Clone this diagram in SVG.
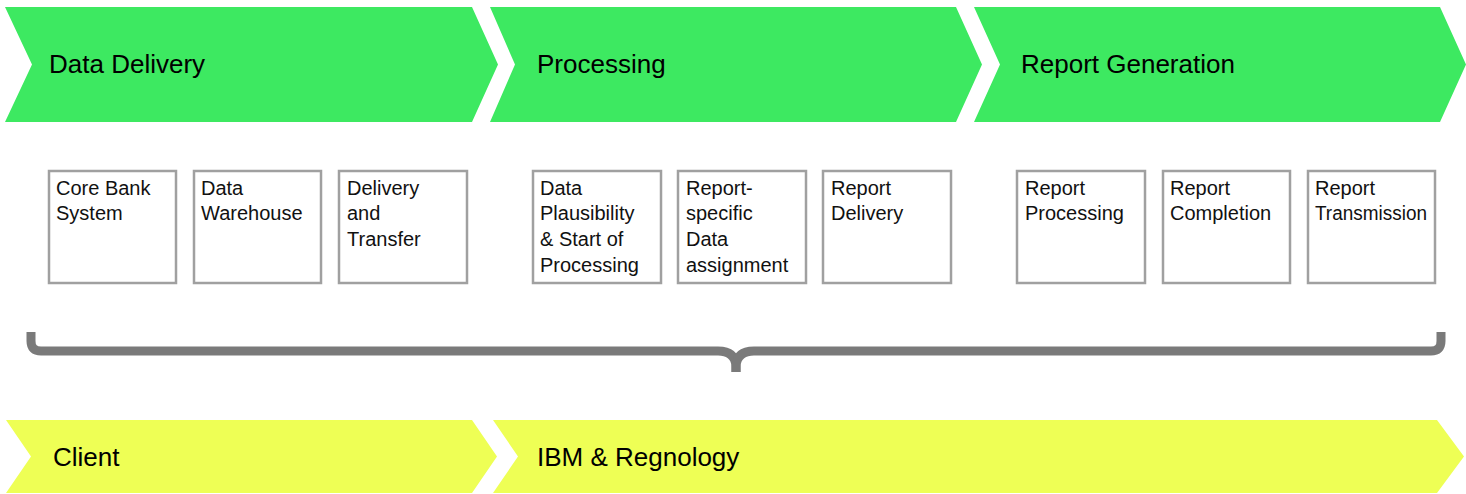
<svg xmlns="http://www.w3.org/2000/svg" width="1466" height="494" viewBox="0 0 1466 494">
<style>
.phase{fill:#3DE961}
.party{fill:#EEFF55}
.ptxt{font-family:"Liberation Sans",Arial,sans-serif;font-size:26px;fill:#000}
.box{fill:#fff;stroke:#A0A0A0;stroke-width:2.5}
.btxt{font-family:"Liberation Sans",Arial,sans-serif;font-size:20px;fill:#111}
.brace{fill:none;stroke:#7A7A7A;stroke-width:9;stroke-linejoin:round}
</style>
<rect width="1466" height="494" fill="#fff"/>
<g id="phase-data-delivery">
<polygon class="phase" points="5,7 472,7 498,64.5 472,122 5,122 32,64.5"/>
<text class="ptxt" x="49" y="73">Data Delivery</text>
</g>
<g id="phase-processing">
<polygon class="phase" points="490,7 956,7 982,64.5 956,122 490,122 515,64.5"/>
<text class="ptxt" x="537" y="73">Processing</text>
</g>
<g id="phase-report-generation">
<polygon class="phase" points="974,7 1440,7 1466,64.5 1440,122 974,122 1000,64.5"/>
<text class="ptxt" x="1021" y="73">Report Generation</text>
</g>
<g id="box-core-bank">
<rect class="box" x="49" y="171" width="127" height="112"/>
<text class="btxt" x="56" y="195">Core Bank</text>
<text class="btxt" x="56" y="220">System</text>
</g>
<g id="box-data-warehouse">
<rect class="box" x="194" y="171" width="127" height="112"/>
<text class="btxt" x="201" y="195">Data</text>
<text class="btxt" x="201" y="220">Warehouse</text>
</g>
<g id="box-delivery-transfer">
<rect class="box" x="339" y="171" width="128" height="112"/>
<text class="btxt" x="347" y="195">Delivery</text>
<text class="btxt" x="347" y="220">and</text>
<text class="btxt" x="347" y="246">Transfer</text>
</g>
<g id="box-data-plausibility">
<rect class="box" x="533" y="171" width="128" height="112"/>
<text class="btxt" x="540" y="195">Data</text>
<text class="btxt" x="540" y="220">Plausibility</text>
<text class="btxt" x="540" y="246">&amp; Start of</text>
<text class="btxt" x="540" y="272">Processing</text>
</g>
<g id="box-report-specific">
<rect class="box" x="678" y="171" width="128" height="112"/>
<text class="btxt" x="686" y="195">Report-</text>
<text class="btxt" x="686" y="220">specific</text>
<text class="btxt" x="686" y="246">Data</text>
<text class="btxt" x="686" y="272">assignment</text>
</g>
<g id="box-report-delivery">
<rect class="box" x="823" y="171" width="128" height="112"/>
<text class="btxt" x="831" y="195">Report</text>
<text class="btxt" x="831" y="220">Delivery</text>
</g>
<g id="box-report-processing">
<rect class="box" x="1017" y="171" width="128" height="112"/>
<text class="btxt" x="1025" y="195">Report</text>
<text class="btxt" x="1025" y="220">Processing</text>
</g>
<g id="box-report-completion">
<rect class="box" x="1163" y="171" width="127" height="112"/>
<text class="btxt" x="1170" y="195">Report</text>
<text class="btxt" x="1170" y="220">Completion</text>
</g>
<g id="box-report-transmission">
<rect class="box" x="1308" y="171" width="127" height="112"/>
<text class="btxt" x="1315" y="195">Report</text>
<text class="btxt" x="1315" y="220" textLength="112" lengthAdjust="spacingAndGlyphs">Transmission</text>
</g>
<g id="connectors">
<path class="brace" d="M31,332 L31,341 Q31,351 41,351 L718,351 Q735,351 736,366 L736,372"/>
<path class="brace" d="M736,372 L736,366 Q737,351 754,351 L1431,351 Q1441,351 1441,341 L1441,332"/>
</g>
<g id="party-client">
<polygon class="party" points="6,420 472,420 497,456.5 472,493 6,493 31,456.5"/>
<text class="ptxt" x="53" y="466">Client</text>
</g>
<g id="party-ibm-regnology">
<polygon class="party" points="493,420 1437,420 1464,456.5 1437,493 493,493 518,456.5"/>
<text class="ptxt" x="537" y="466">IBM &amp; Regnology</text>
</g>
</svg>
